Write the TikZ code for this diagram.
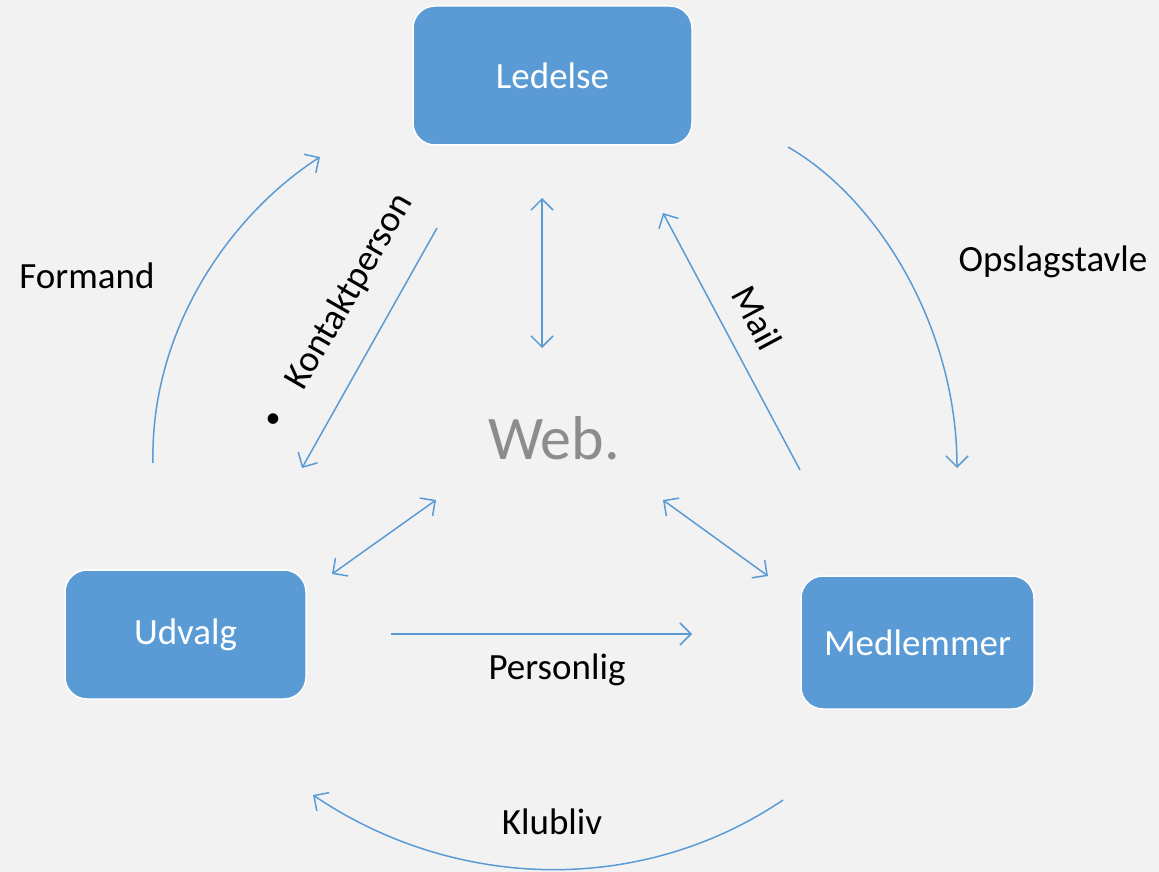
\documentclass[tikz,border=0pt]{standalone}
\usepackage{fontspec}
\setmainfont{Carlito}
\usetikzlibrary{arrows.meta}
\definecolor{bg}{HTML}{F2F2F2}
\definecolor{boxblue}{HTML}{5B9BD5}
\definecolor{webgray}{HTML}{8C8C8C}
\begin{document}
\begin{tikzpicture}[x=1pt,y=-1pt,
  box/.style={draw=white,line width=1.5pt,fill=boxblue,rounded corners=22pt,text=white,font=\fontsize{37}{40}\selectfont,inner sep=0pt},
  lbl/.style={font=\fontsize{37}{40}\selectfont,text=black,inner sep=0pt},
  conn/.style={draw=boxblue,line width=1.5pt,-{Straight Barb[length=11pt,width=22pt,line width=1.5pt]}},
  dconn/.style={conn,{Straight Barb[length=11pt,width=22pt,line width=1.5pt]}-{Straight Barb[length=11pt,width=22pt,line width=1.5pt]}}
]
\fill[bg] (0,0) rectangle (1159,872);
\useasboundingbox (0,0) rectangle (1159,872);

% boxes
\node[box,minimum width=279pt,minimum height=139pt] (led) at (552.5,75.5) {Ledelse};
\node[box,minimum width=241pt,minimum height=129pt] (udv) at (185.5,634.5) {Udvalg};
\node[box,minimum width=233pt,minimum height=133pt] (med) at (917.5,642.5) {Medlemmer};

% texts
\node[font=\fontsize{62}{66}\selectfont,text=webgray,inner sep=0pt] (web) at (554,438) {Web.};
\node[lbl] (formand) at (87,276) {Formand};
\node[lbl] (opslag) at (1053,262) {Opslagstavle};
\node[lbl] (personlig) at (557,670) {Personlig};
\node[lbl] (klubliv) at (552,822) {Klubliv};
\node[lbl,rotate=60] (kontakt) at (350,292) {Kontaktperson};
\node[lbl,rotate=-62] (mail) at (757,318) {Mail};
\node[inner sep=0pt,font=\fontsize{30}{30}\selectfont] (bullet) at (273,421) {\textbullet};

% coordinates of free ends
\coordinate (fA) at (153,463);
\coordinate (fB) at (320,157);
\coordinate (kA) at (437,228);
\coordinate (kB) at (302,468);
\coordinate (vA) at (542,198);
\coordinate (vB) at (542,348);
\coordinate (mA) at (800,470);
\coordinate (mB) at (663,213);
\coordinate (oA) at (788,147);
\coordinate (oB) at (957,468);
\coordinate (uA) at (332,574);
\coordinate (uB) at (436,500);
\coordinate (wA) at (663,500);
\coordinate (wB) at (768,576);
\coordinate (pA) at (391,634);
\coordinate (pB) at (692,634);
\coordinate (cA) at (783,800);
\coordinate (cB) at (313,795);

% connectors
\draw[conn] (fA) .. controls (150,330) and (230,215) .. (fB);
\draw[conn] (kA) -- (kB);
\draw[dconn] (vA) -- (vB);
\draw[conn] (mA) -- (mB);
\draw[conn] (oA) .. controls (880,200) and (957,330) .. (oB);
\draw[dconn] (uA) -- (uB);
\draw[dconn] (wA) -- (wB);
\draw[conn] (pA) -- (pB);
\draw[conn] (cA) .. controls (641,896) and (455,891) .. (cB);
\end{tikzpicture}
\end{document}
